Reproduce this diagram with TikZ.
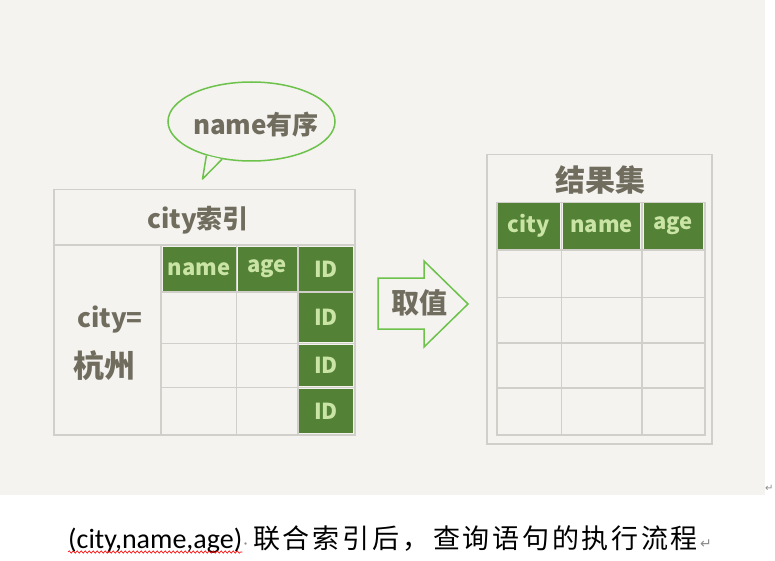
\documentclass[tikz,border=0pt]{standalone}
\usepackage{fontspec}
\setmainfont{Carlito}
\newfontfamily\hand{Noto Sans CJK SC}
\newfontfamily\capcjk[LetterSpace=10]{Noto Sans CJK SC}
\newfontfamily\dv{DejaVu Sans}
\usetikzlibrary{shapes.geometric,decorations.pathmorphing}
\definecolor{bgc}{HTML}{F4F3EF}
\definecolor{gridc}{HTML}{D0CFCA}
\definecolor{hdrg}{HTML}{538135}
\definecolor{hdrt}{HTML}{C9E4A5}
\definecolor{inkc}{HTML}{706D5F}
\definecolor{bubg}{HTML}{6CC24A}
\definecolor{markc}{HTML}{8C8C8C}
\tikzset{
  gl/.style={draw=gridc, line width=1.5},
  hdr/.style={fill=hdrg, inner sep=0, text=hdrt, font=\hand\bfseries\fontsize{22}{24}\selectfont},
  hw/.style={inner sep=0, text=inkc, font=\hand\bfseries\fontsize{26}{30}\selectfont},
  capt/.style={inner sep=0, anchor=base west, font=\fontsize{28}{32}\selectfont},
  capc/.style={capt, font=\capcjk\fontsize{27}{32}\selectfont},
}
\begin{document}
\begin{tikzpicture}[x=1pt,y=-1pt]
\useasboundingbox (0,0) rectangle (775,561);
\fill[bgc] (0,0) rectangle (765,495);

% speech bubble
\node[ellipse, draw=bubg, line width=1.5, minimum width=167, minimum height=79, inner sep=0] (bubble) at (251.5,121.5) {};
\coordinate (tip) at (202.5,179);
\fill[bgc] (bubble.217) -- (tip) -- (bubble.232) -- cycle;
\draw[bubg, line width=1.5, line join=round] (bubble.217) -- (tip) -- (bubble.232);
\node[hw] (bubtxt) at (256,125) {name有序};

% left table
\node[gl, minimum width=301, minimum height=245, inner sep=0, anchor=north west] (ltab) at (53,189) {};
\draw[gl] (53,245) -- (354,245);
\draw[gl] (161,245) -- (161,434);
\draw[gl] (236.5,245) -- (236.5,434);
\draw[gl] (298,245) -- (298,434);
\draw[gl] (161,292) -- (354,292);
\draw[gl] (161,343.5) -- (354,343.5);
\draw[gl] (161,387.5) -- (354,387.5);
\node[hw] (ltitle) at (198,220) {city索引};
\node[hw] (lcity) at (110,320) {city=};
\node[hw, font=\hand\bfseries\fontsize{31}{34}\selectfont] (lhz) at (104,366) {杭州};
\node[hdr, minimum width=73, minimum height=44] (hname) at (199,269) {name};
\node[hdr, minimum width=59, minimum height=44] (hage) at (267,269) {age};
\node[hdr, minimum width=54, minimum height=44] (id1) at (326,269) {ID};
\node[hdr, minimum width=54, minimum height=49] (id2) at (326,317.5) {ID};
\node[hdr, minimum width=54, minimum height=41] (id3) at (326,365.5) {ID};
\node[hdr, minimum width=54, minimum height=44] (id4) at (326,411) {ID};

% block arrow
\draw[bubg, line width=1.5, fill=bgc, line join=miter]
  (378,278) -- (424,278) -- (424,261) -- (468,304) -- (424,347) -- (424,329) -- (378,329) -- cycle;
\node[hw, font=\hand\bfseries\fontsize{28}{30}\selectfont] (quzhi) at (419,303) {取值};

% right table
\node[gl, minimum width=225, minimum height=289, inner sep=0, anchor=north west] (rtab) at (486,154) {};
\node[gl, minimum width=208, minimum height=232, inner sep=0, anchor=north west] (rgrid) at (496,202) {};
\draw[gl] (561.5,202) -- (561.5,434);
\draw[gl] (642,202) -- (642,434);
\draw[gl] (496,250) -- (704,250);
\draw[gl] (496,297.5) -- (704,297.5);
\draw[gl] (496,343) -- (704,343);
\draw[gl] (496,388) -- (704,388);
\node[hw, font=\hand\bfseries\fontsize{30}{32}\selectfont] (rtitle) at (600,180) {结果集};
\node[hdr, minimum width=62.5, minimum height=45.5] (rcity) at (528.8,226.2) {city};
\node[hdr, minimum width=77.5, minimum height=45.5] (rname) at (601.7,226.2) {name};
\node[hdr, minimum width=59, minimum height=45.5] (rage) at (673,226.2) {age};

% edge mark
\node[inner sep=0, anchor=base west, text=markc, font=\dv\fontsize{10}{12}\selectfont] (edgemark) at (765,491) {↵};

% caption
\node[capt] (capL) at (68,548) {(city,name,age)};
\node[capt, text=markc, font=\fontsize{16}{18}\selectfont] (capDot) at ([xshift=1]capL.base east) {·};
\node[capc] (capR1) at (253,548) {联合索引后};
\node[capc] (capComma) at (402,548) {，};
\node[capc] (capR2) at (433,548) {查询语句的执行流程};
\node[capt, text=markc, font=\dv\fontsize{14}{16}\selectfont] (capP) at ([xshift=2]capR2.base east) {↵};
\draw[red, line width=0.6, decorate, decoration={snake, amplitude=1.2, segment length=4}]
  ([yshift=-4]capL.base west) -- ([yshift=-4]capL.base east);
\end{tikzpicture}
\end{document}
